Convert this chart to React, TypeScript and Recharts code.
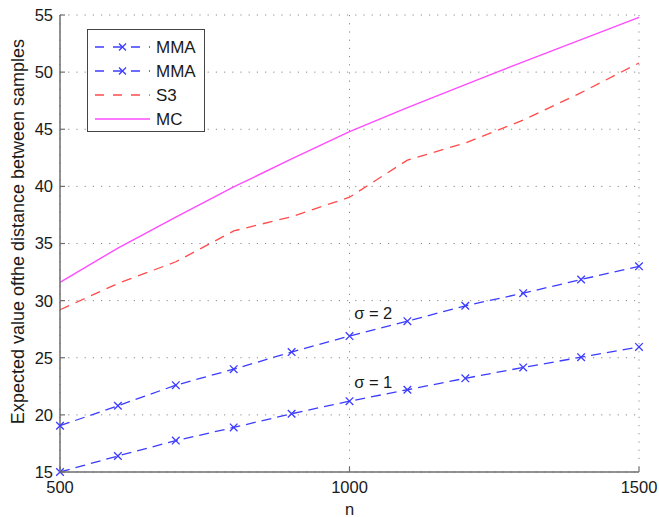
import React from 'react';
import { LineChart, Line, XAxis, YAxis, CartesianGrid, Legend, ReferenceDot, Label } from 'recharts';

const nValues = [500, 600, 700, 800, 900, 1000, 1100, 1200, 1300, 1400, 1500];
const mmaSigma2 = [19.05, 20.8, 22.6, 24.0, 25.5, 26.9, 28.2, 29.55, 30.65, 31.85, 33.0];
const mmaSigma1 = [15.0, 16.4, 17.75, 18.9, 20.1, 21.2, 22.2, 23.2, 24.15, 25.05, 25.95];
const s3Values = [29.2, 31.5, 33.4, 36.1, 37.35, 39.05, 42.3, 43.8, 45.8, 48.2, 50.8];
const mcValues = [31.6, 34.6, 37.3, 39.95, 42.4, 44.8, 46.9, 48.9, 50.9, 52.85, 54.8];

const xTicks = [500, 1000, 1500];
const yTicks = [15, 20, 25, 30, 35, 40, 45, 50, 55];

const seriesKeys = ['mma2', 'mma1', 's3', 'mc'];
const seriesNames = ['MMA', 'MMA', 'S3', 'MC'];

const annotationTexts = ['σ = 2', 'σ = 1'];
const annotationN = [1008, 1008];
const annotationValues = [28.9, 22.85];

const xLabel = 'n';
const yLabel = 'Expected value ofthe distance between samples';

const data = nValues.map((n, i) => ({
  n,
  mma2: mmaSigma2[i],
  mma1: mmaSigma1[i],
  s3: s3Values[i],
  mc: mcValues[i],
}));

const FONT = '"Liberation Sans", Arial, Helvetica, sans-serif';
const BLUE = '#3c3cff';
const RED = '#ff4b4b';
const MAGENTA = '#ff4cff';
const AXIS = '#6e6e6e';
const TEXT = '#1a1a1a';

const styles: Record<string, { color: string; dash?: string; marker: boolean; width: number }> = {
  mma2: { color: BLUE, dash: '10 6', marker: true, width: 1.3 },
  mma1: { color: BLUE, dash: '10 6', marker: true, width: 1.3 },
  s3: { color: RED, dash: '10 7', marker: false, width: 1.3 },
  mc: { color: MAGENTA, marker: false, width: 1.4 },
};

const XDot = (props: any) => {
  const { cx, cy } = props;
  if (cx == null || cy == null) return <g />;
  const s = 3.8;
  return (
    <path
      d={`M${cx - s},${cy - s}L${cx + s},${cy + s}M${cx - s},${cy + s}L${cx + s},${cy - s}`}
      stroke={BLUE}
      strokeWidth={1.3}
      fill="none"
    />
  );
};

const XTick = (props: any) => {
  const { x, y, payload } = props;
  return (
    <g>
      <line x1={x} y1={y} x2={x} y2={y - 5} stroke={AXIS} strokeWidth={1.2} />
      <text x={x} y={y + 21} textAnchor="middle" fontFamily={FONT} fontSize={16.5} fill={TEXT}>
        {payload.value}
      </text>
    </g>
  );
};

const YTick = (props: any) => {
  const { x, y, payload } = props;
  return (
    <g>
      <line x1={x} y1={y} x2={x + 5} y2={y} stroke={AXIS} strokeWidth={1.2} />
      <text x={x - 7} y={y} dy="0.36em" textAnchor="end" fontFamily={FONT} fontSize={16.5} fill={TEXT}>
        {payload.value}
      </text>
    </g>
  );
};

const renderXLabel = (props: any) => {
  const vb = props.viewBox || {};
  return (
    <text x={vb.x + vb.width / 2} y={vb.y + 43} textAnchor="middle" fontFamily={FONT} fontSize={16.5} fill={TEXT}>
      {xLabel}
    </text>
  );
};

const renderYLabel = (props: any) => {
  const vb = props.viewBox || {};
  const cx = vb.x + 18;
  const cy = vb.y + vb.height / 2 - 12;
  return (
    <text
      x={cx}
      y={cy}
      transform={`rotate(-90 ${cx} ${cy})`}
      textAnchor="middle"
      dominantBaseline="central"
      fontFamily={FONT}
      fontSize={18}
      fill={TEXT}
    >
      {yLabel}
    </text>
  );
};

const renderLegend = (props: any) => {
  const payload = props.payload || [];
  const rowH = 24;
  const w = 118;
  const h = 103;
  return (
    <svg width={w} height={h} style={{ display: 'block' }}>
      <rect x={0.5} y={0.5} width={w - 1} height={h - 1} fill="#ffffff" stroke="#444" strokeWidth={1} />
      {payload.map((entry: any, i: number) => {
        const st = styles[entry.dataKey] || styles.mc;
        const y = 18 + i * rowH;
        return (
          <g key={i}>
            <line x1={8} y1={y} x2={63} y2={y} stroke={st.color} strokeWidth={st.width} strokeDasharray={st.dash ? '9 9' : undefined} />
            {st.marker && (
              <path
                d={`M${35.5 - 3.5},${y - 3.5}L${35.5 + 3.5},${y + 3.5}M${35.5 - 3.5},${y + 3.5}L${35.5 + 3.5},${y - 3.5}`}
                stroke={BLUE}
                strokeWidth={1.3}
              />
            )}
            <text x={69} y={y} dy="0.36em" fontFamily={FONT} fontSize={17} fill={TEXT}>
              {entry.value}
            </text>
          </g>
        );
      })}
    </svg>
  );
};

const renderAnnotation = (text: string) => (props: any) => {
  const vb = props.viewBox || {};
  return (
    <text x={vb.x} y={vb.y} dy="0.36em" textAnchor="start" fontFamily={FONT} fontSize={16.5} fill={TEXT}>
      {text}
    </text>
  );
};

const legendOrder = (item: any) => seriesKeys.indexOf(item.dataKey);

export default function App() {
  return (
    <div style={{ position: 'absolute', left: 0, top: 0, background: '#fff' }}>
      <LineChart width={659} height={517} data={data} margin={{ top: 15, right: 20, bottom: 0, left: 0 }}>
        <CartesianGrid stroke="#8a8a8a" strokeDasharray="1.2 7" strokeWidth={1} />
        <XAxis
          dataKey="n"
          type="number"
          domain={[500, 1500]}
          ticks={xTicks}
          height={45}
          tickSize={0}
          tickMargin={0}
          tickLine={false}
          axisLine={{ stroke: AXIS, strokeWidth: 1.5 }}
          tick={<XTick />}
          interval={0}
        >
          <Label content={renderXLabel} />
        </XAxis>
        <YAxis
          type="number"
          domain={[15, 55]}
          ticks={yTicks}
          width={60}
          tickSize={0}
          tickMargin={0}
          tickLine={false}
          axisLine={{ stroke: AXIS, strokeWidth: 1.5 }}
          tick={<YTick />}
          interval={0}
        >
          <Label content={renderYLabel} />
        </YAxis>
        <Legend
          layout="vertical"
          align="center"
          verticalAlign="middle"
          content={renderLegend}
          itemSorter={legendOrder}
          wrapperStyle={{ left: 87, top: 29, width: 118, height: 103 }}
        />
        {seriesKeys.map((k, i) => {
          const st = styles[k];
          return (
            <Line
              key={k}
              dataKey={k}
              name={seriesNames[i]}
              type="linear"
              stroke={st.color}
              strokeWidth={st.width}
              strokeDasharray={st.dash}
              dot={st.marker ? <XDot /> : false}
              activeDot={false}
              isAnimationActive={false}
            />
          );
        })}
        {annotationTexts.map((t, i) => (
          <ReferenceDot
            key={t}
            x={annotationN[i]}
            y={annotationValues[i]}
            r={0}
            fill="none"
            stroke="none"
            label={{ content: renderAnnotation(t) }}
          />
        ))}
      </LineChart>
    </div>
  );
}
